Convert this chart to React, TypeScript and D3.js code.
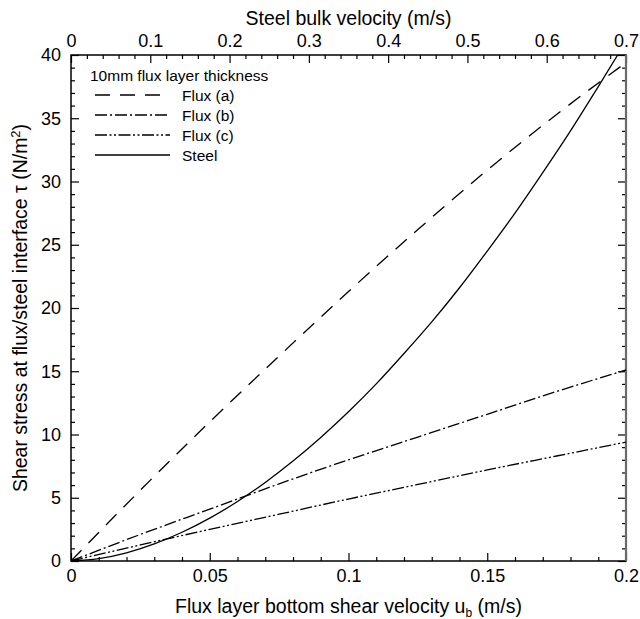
import React, { useEffect, useRef } from "react";
import * as d3 from "d3";

// flux layer bottom shear velocity (m/s)
const uFlux = [0, 0.025, 0.05, 0.075, 0.1, 0.125, 0.15, 0.175, 0.2];
const fluxA = [0, 5.6, 11.0, 16.2, 21.3, 26.2, 30.9, 35.3, 39.4];
const fluxB = [0, 2.1, 4.1, 6.1, 8.0, 9.8, 11.6, 13.4, 15.1];
const fluxC = [0, 1.27, 2.5, 3.7, 4.9, 6.05, 7.2, 8.3, 9.4];

const uSteel = [
  0, 0.01, 0.02, 0.03, 0.04, 0.05, 0.06, 0.07, 0.08, 0.09, 0.1, 0.11, 0.12,
  0.13, 0.14, 0.15, 0.16, 0.17, 0.18, 0.19, 0.197
];
const steel = [
  0, 0.19, 0.65, 1.35, 2.27, 3.39, 4.7, 6.21, 7.9, 9.77, 11.8, 14.0, 16.4,
  18.9, 21.6, 24.5, 27.5, 30.7, 34.0, 37.5, 40
];

const bottomTicks = [0, 0.05, 0.1, 0.15, 0.2];
const topTicks = [0, 0.1, 0.2, 0.3, 0.4, 0.5, 0.6, 0.7];
const leftTicks = [0, 5, 10, 15, 20, 25, 30, 35, 40];

const legendTitle = "10mm flux layer thickness";
const legendItems = [
  { name: "Flux (a)", dash: "15,10" },
  { name: "Flux (b)", dash: "12,3,2,3" },
  { name: "Flux (c)", dash: "12,2.5,2,2.5,2,2.5" },
  { name: "Steel", dash: "none" }
];

const FONT = "'Liberation Sans', Arial, Helvetica, sans-serif";

const isMajor = (v: number, step: number) =>
  Math.abs(v / step - Math.round(v / step)) < 1e-6;

const App = () => {
  const ref = useRef<SVGSVGElement>(null);

  useEffect(() => {
    const svg = d3.select(ref.current);
    svg.selectAll("*").remove();

    const margin = { left: 71, right: 14, top: 55, bottom: 58 };
    const W = 640;
    const H = 619;
    const width = W - margin.left - margin.right;
    const height = H - margin.top - margin.bottom;

    const x = d3.scaleLinear().domain([0, 0.2]).range([0, width]);
    const xTop = d3.scaleLinear().domain([0, 0.7]).range([0, width]);
    const y = d3.scaleLinear().domain([0, 40]).range([height, 0]);

    const g = svg
      .append("g")
      .attr("transform", "translate(" + margin.left + "," + margin.top + ")");

    const styleAxis = (sel: any) => {
      sel.select(".domain").remove();
      sel.selectAll("line").attr("stroke", "#000").attr("stroke-width", 1.2);
      sel
        .selectAll("text")
        .attr("font-family", FONT)
        .attr("font-size", 18)
        .attr("fill", "#000");
    };

    const minor = (lo: number, hi: number, step: number, major: number) =>
      d3.range(lo, hi + step / 2, step).filter(v => !isMajor(v, major));

    // bottom axis
    g.append("g")
      .attr("transform", "translate(0," + height + ")")
      .call(
        d3.axisBottom(x).tickValues(bottomTicks).tickSize(-8).tickPadding(8)
          .tickFormat((d: any) => String(d))
      )
      .call(styleAxis);
    g.append("g")
      .attr("transform", "translate(0," + height + ")")
      .call(d3.axisBottom(x).tickValues(minor(0, 0.2, 0.01, 0.05)).tickSize(-4).tickFormat(() => ""))
      .call(styleAxis);

    // top axis (steel bulk velocity)
    g.append("g")
      .call(
        d3.axisTop(xTop).tickValues(topTicks).tickSize(-8).tickPadding(8)
          .tickFormat((d: any) => String(d))
      )
      .call(styleAxis);
    g.append("g")
      .call(d3.axisTop(xTop).tickValues(minor(0, 0.7, 0.02, 0.1)).tickSize(-4).tickFormat(() => ""))
      .call(styleAxis);

    // left axis
    g.append("g")
      .call(
        d3.axisLeft(y).tickValues(leftTicks).tickSize(-8).tickPadding(10)
          .tickFormat((d: any) => String(d))
      )
      .call(styleAxis);
    g.append("g")
      .call(d3.axisLeft(y).tickValues(minor(0, 40, 1, 5)).tickSize(-4).tickFormat(() => ""))
      .call(styleAxis);

    // right axis, ticks only
    g.append("g")
      .attr("transform", "translate(" + width + ",0)")
      .call(d3.axisRight(y).tickValues(leftTicks).tickSize(-8).tickFormat(() => ""))
      .call(styleAxis);
    g.append("g")
      .attr("transform", "translate(" + width + ",0)")
      .call(d3.axisRight(y).tickValues(minor(0, 40, 1, 5)).tickSize(-4).tickFormat(() => ""))
      .call(styleAxis);

    // frame
    g.append("rect")
      .attr("width", width)
      .attr("height", height)
      .attr("fill", "none")
      .attr("stroke", "#000")
      .attr("stroke-width", 1.5);
    g.append("line")
      .attr("x1", width)
      .attr("x2", width)
      .attr("y1", 0)
      .attr("y2", height)
      .attr("stroke", "#6a6a6a")
      .attr("stroke-width", 2.2);

    // curves
    g.append("clipPath")
      .attr("id", "plotclip")
      .append("rect")
      .attr("width", width)
      .attr("height", height);

    const line = d3
      .line<[number, number]>()
      .x(d => x(d[0]))
      .y(d => y(d[1]))
      .curve(d3.curveMonotoneX);

    const series = [
      { u: uFlux, v: fluxA, dash: legendItems[0].dash },
      { u: uFlux, v: fluxB, dash: legendItems[1].dash },
      { u: uFlux, v: fluxC, dash: legendItems[2].dash },
      { u: uSteel, v: steel, dash: legendItems[3].dash }
    ];

    series.forEach(s => {
      g.append("path")
        .datum(s.u.map((u, i) => [u, s.v[i]] as [number, number]))
        .attr("clip-path", "url(#plotclip)")
        .attr("d", line)
        .attr("fill", "none")
        .attr("stroke", "#000")
        .attr("stroke-width", 1.3)
        .attr("stroke-dasharray", s.dash);
    });

    // legend
    const lg = g.append("g").attr("transform", "translate(19,20)");
    lg.append("text")
      .attr("x", 0)
      .attr("y", 5.5)
      .attr("font-family", FONT)
      .attr("font-size", 15.5)
      .text(legendTitle);
    legendItems.forEach((item, i) => {
      const ly = 20 + i * 20;
      lg.append("line")
        .attr("x1", 5)
        .attr("x2", 80)
        .attr("y1", ly)
        .attr("y2", ly)
        .attr("stroke", "#000")
        .attr("stroke-width", 1.3)
        .attr("stroke-dasharray", item.dash);
      lg.append("text")
        .attr("x", 92)
        .attr("y", ly + 5.5)
        .attr("font-family", FONT)
        .attr("font-size", 15.5)
        .text(item.name);
    });

    // axis titles
    const bottomTitle = svg
      .append("text")
      .attr("x", margin.left + width / 2)
      .attr("y", 613)
      .attr("text-anchor", "middle")
      .attr("font-family", FONT)
      .attr("font-size", 19.5);
    bottomTitle.append("tspan").text("Flux layer bottom shear velocity  u");
    bottomTitle.append("tspan").attr("font-size", 12).attr("dy", 4).text("b");
    bottomTitle.append("tspan").attr("dy", -4).text(" (m/s)");

    svg.append("text")
      .attr("x", margin.left + width / 2)
      .attr("y", 25)
      .attr("text-anchor", "middle")
      .attr("font-family", FONT)
      .attr("font-size", 19.5)
      .text("Steel bulk velocity (m/s)");

    const leftTitle = svg
      .append("text")
      .attr("transform", "translate(27," + (margin.top + height / 2) + ") rotate(-90)")
      .attr("text-anchor", "middle")
      .attr("font-family", FONT)
      .attr("font-size", 19.5);
    leftTitle.append("tspan").text("Shear stress at flux/steel interface τ (N/m");
    leftTitle.append("tspan").attr("font-size", 13).attr("dy", -7).text("2");
    leftTitle.append("tspan").attr("dy", 7).text(")");
  }, []);

  return (
    <svg
      ref={ref}
      width={640}
      height={619}
      style={{ position: "absolute", left: 0, top: 0, background: "#fff" }}
    />
  );
};

export default App;
